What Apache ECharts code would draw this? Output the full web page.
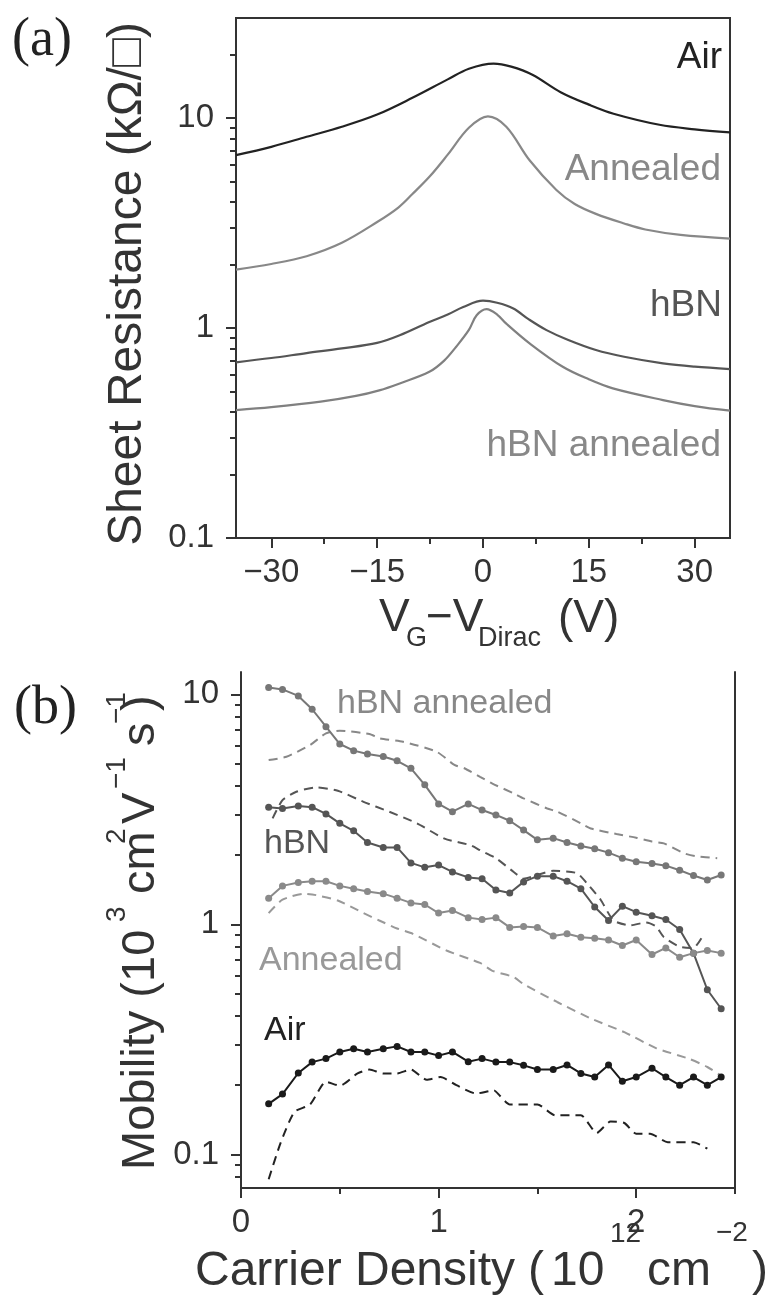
<!DOCTYPE html>
<html>
<head>
<meta charset="utf-8">
<script src="https://cdn.jsdelivr.net/npm/echarts@6/dist/echarts.min.js"></script>
<style>
html,body{margin:0;padding:0;background:#fff;}
#chart{width:775px;height:1296px;}
</style>
</head>
<body>
<div id="chart"></div>
<script>
// ---------- Panel (a): sheet resistance vs V_G - V_Dirac ----------
const vAir = [-35,-30,-25,-20,-15,-10,-5,-2,1.5,4,7,11,15,18.5,25,30,35];
const rAir = [6.67,7.3,8.15,9.1,10.4,12.5,15.3,17.2,18.2,17.6,16.1,13.3,11.6,10.5,9.3,8.85,8.55];
const vAnn = [-35,-30,-25,-20,-15,-12,-10,-7.5,-5,-2,0.7,3.3,6.6,10.4,13,16,20,23,28,35];
const rAnn = [1.90,2.02,2.2,2.55,3.2,3.75,4.35,5.3,6.7,9.0,10.2,9.1,6.3,4.55,3.9,3.5,3.15,2.95,2.78,2.67];
const vHbn = [-35,-30,-25,-20,-15,-11.8,-7.6,-5,-2.8,0,2,4.3,6.5,9,12,16,20,25.5,30,35];
const rHbn = [0.687,0.72,0.76,0.80,0.85,0.925,1.07,1.16,1.26,1.35,1.32,1.24,1.10,0.978,0.88,0.786,0.73,0.679,0.655,0.638];
const vHa = [-35,-30,-23,-18,-14.7,-11.8,-7.6,-5.5,-3.8,-2,-0.9,0.5,2,3.3,6.6,11.3,15,18.4,25.5,30,35];
const rHa = [0.407,0.42,0.446,0.475,0.505,0.545,0.619,0.70,0.815,0.98,1.15,1.23,1.16,1.05,0.846,0.654,0.57,0.516,0.454,0.425,0.404];
const aXMajor = [-30,-15,0,15,30];
const aXMinor = [-22.5,-7.5,7.5,22.5];
const aYMajor = [0.1,1,10];
const aYMinor = [0.2,0.3,0.4,0.5,0.6,0.7,0.8,0.9,2,3,4,5,6,7,8,9,20];

// ---------- Panel (b): mobility vs carrier density ----------
const nB = [0.14,0.21,0.29,0.36,0.43,0.50,0.57,0.64,0.72,0.79,0.86,0.93,1.00,1.07,1.15,1.22,1.29,1.36,1.43,1.50,1.58,1.65,1.72,1.79,1.86,1.93,2.00,2.08,2.15,2.22,2.29,2.36,2.43];
const muHa = [10.7,10.5,9.84,8.61,7.23,6.08,5.69,5.50,5.37,5.14,4.77,4.04,3.34,3.09,3.34,3.14,2.99,2.82,2.57,2.33,2.37,2.27,2.19,2.13,2.05,1.94,1.87,1.84,1.80,1.72,1.63,1.56,1.64];
const muHbn = [3.23,3.19,3.27,3.23,3.02,2.75,2.55,2.27,2.16,2.16,1.85,1.77,1.81,1.69,1.60,1.58,1.41,1.37,1.53,1.62,1.62,1.54,1.43,1.19,1.04,1.20,1.13,1.09,1.05,0.95,0.75,0.52,0.43];
const muAnn = [1.30,1.47,1.52,1.54,1.54,1.47,1.43,1.39,1.36,1.30,1.24,1.22,1.12,1.15,1.07,1.05,1.07,0.97,0.98,0.97,0.89,0.91,0.88,0.87,0.855,0.81,0.855,0.74,0.79,0.72,0.75,0.77,0.75];
const muAir = [0.166,0.183,0.226,0.252,0.261,0.279,0.288,0.279,0.288,0.295,0.279,0.279,0.269,0.279,0.253,0.261,0.252,0.252,0.244,0.234,0.234,0.245,0.225,0.217,0.245,0.208,0.217,0.237,0.217,0.200,0.217,0.200,0.217];

const nHaD = [0.14,0.23,0.35,0.43,0.50,0.65,0.70,0.82,0.99,1.08,1.13,1.21,1.27,1.38,1.43,1.55,1.60,1.72,1.77,1.90,2.00,2.08,2.14,2.24,2.30,2.41];
const muHaD = [5.18,5.35,6.02,6.77,6.95,6.72,6.44,6.22,5.63,4.93,4.77,4.38,4.1,3.71,3.53,3.19,3.09,2.75,2.61,2.47,2.38,2.29,2.25,2.04,1.98,1.94];
const nHbnD = [0.16,0.21,0.28,0.38,0.49,0.62,0.75,0.89,1.03,1.16,1.21,1.29,1.38,1.43,1.52,1.58,1.70,1.75,1.82,1.885,1.97,2.05,2.10,2.14,2.22,2.29,2.33];
const muHbnD = [2.89,3.47,3.77,3.94,3.81,3.41,3.09,2.75,2.36,2.21,2.10,1.94,1.69,1.58,1.66,1.71,1.67,1.51,1.28,1.04,0.99,1.02,0.98,0.88,0.80,0.79,0.87];
const nAnnD = [0.14,0.21,0.32,0.38,0.49,0.62,0.70,0.79,0.87,1.04,1.21,1.27,1.38,1.43,1.60,1.77,1.94,2.10,2.27,2.36,2.44];
const muAnnD = [1.12,1.28,1.36,1.34,1.27,1.12,1.04,0.96,0.91,0.77,0.68,0.63,0.59,0.55,0.46,0.39,0.34,0.29,0.26,0.24,0.217];
const nAirD = [0.14,0.20,0.27,0.35,0.43,0.50,0.59,0.65,0.72,0.79,0.86,0.94,1.01,1.09,1.19,1.28,1.31,1.36,1.50,1.59,1.72,1.80,1.87,1.94,2.00,2.07,2.16,2.29,2.36];
const muAirD = [0.078,0.112,0.153,0.165,0.207,0.199,0.225,0.234,0.225,0.225,0.234,0.211,0.217,0.200,0.184,0.190,0.180,0.165,0.165,0.148,0.148,0.124,0.139,0.137,0.123,0.123,0.113,0.113,0.106];

const bXMajor = [0,1,2];
const bXMinor = [0.5,1.5,2.5];
const bYMajor = [0.1,1,10];
const bYMinor = [0.08,0.09,0.2,0.3,0.4,0.5,0.6,0.7,0.8,0.9,2,3,4,5,6,7,8,9];

function zip(xs, ys){ return xs.map((x,i)=>[x, ys[i]]); }

const AX = '#333';
const FONT = 'Liberation Sans';
const minus = v => (v < 0 ? '\u2212' + Math.abs(v) : String(v));

function majorAxis(extra){
  return Object.assign({
    axisLine:{show:true, onZero:false, lineStyle:{color:AX, width:2}},
    splitLine:{show:false},
    axisTick:{show:true, length:10, lineStyle:{color:AX, width:2}},
    axisLabel:{color:'#333', fontSize:33, fontFamily:FONT}
  }, extra);
}
function minorAxis(extra, ticks, len){
  return Object.assign({
    axisLine:{show:false, onZero:false},
    splitLine:{show:false},
    axisTick:{show:true, length:len, customValues:ticks, lineStyle:{color:AX, width:2}},
    axisLabel:{show:false}
  }, extra);
}

const xAxis = [
  majorAxis({gridIndex:0, type:'value', min:-35, max:35, position:'bottom',
    axisTick:{show:true, length:10, customValues:aXMajor, lineStyle:{color:AX,width:2}},
    axisLabel:{customValues:aXMajor, formatter:minus, color:'#333', fontSize:33, fontFamily:FONT, margin:18}}),
  minorAxis({gridIndex:0, type:'value', min:-35, max:35, position:'bottom'}, aXMinor, 6),
  majorAxis({gridIndex:1, type:'value', min:0, max:2.5, position:'bottom',
    axisTick:{show:true, length:10, customValues:bXMajor, lineStyle:{color:AX,width:2}},
    axisLabel:{customValues:bXMajor, color:'#333', fontSize:33, fontFamily:FONT, margin:18}}),
  minorAxis({gridIndex:1, type:'value', min:0, max:2.5, position:'bottom'}, bXMinor, 6)
];

const yAxis = [
  majorAxis({gridIndex:0, type:'log', min:0.1, max:30, position:'left',
    axisTick:{show:true, length:10, customValues:aYMajor, lineStyle:{color:AX,width:2}},
    axisLabel:{customValues:aYMajor, formatter:v=>String(+v.toPrecision(3)), color:'#333', fontSize:33, fontFamily:FONT, margin:22}}),
  minorAxis({gridIndex:0, type:'log', min:0.1, max:30, position:'left'}, aYMinor, 6),
  majorAxis({gridIndex:1, type:'log', min:0.0715, max:12.5, position:'left',
    axisTick:{show:true, length:10, customValues:bYMajor, lineStyle:{color:AX,width:2}},
    axisLabel:{customValues:bYMajor, formatter:v=>String(+v.toPrecision(3)), color:'#333', fontSize:33, fontFamily:FONT, margin:22}}),
  minorAxis({gridIndex:1, type:'log', min:0.0715, max:12.5, position:'left'}, bYMinor, 6),
  {gridIndex:1, type:'log', min:0.0715, max:12.5, position:'right',
    axisLine:{show:true, onZero:false, lineStyle:{color:AX, width:2}},
    axisTick:{show:false}, axisLabel:{show:false}, splitLine:{show:false}}
];

function curveA(name, xs, ys, color){
  return {name, type:'line', xAxisIndex:0, yAxisIndex:0, data:zip(xs,ys), smooth:0.35,
    showSymbol:false, lineStyle:{color, width:2.2}, silent:true};
}
function solidB(name, ys, color){
  return {name, type:'line', xAxisIndex:2, yAxisIndex:2, data:zip(nB,ys), smooth:false,
    symbol:'circle', symbolSize:7, itemStyle:{color}, lineStyle:{color, width:2}, silent:true};
}
function dashB(name, xs, ys, color){
  return {name, type:'line', xAxisIndex:2, yAxisIndex:2, data:zip(xs,ys), smooth:0.2,
    showSymbol:false, lineStyle:{color, width:2, type:[9,6]}, silent:true};
}

const series = [
  curveA('Air', vAir, rAir, '#222'),
  curveA('Annealed', vAnn, rAnn, '#888'),
  curveA('hBN', vHbn, rHbn, '#555'),
  curveA('hBN annealed', vHa, rHa, '#808080'),
  dashB('hBN annealed (dashed)', nHaD, muHaD, '#888'),
  dashB('hBN (dashed)', nHbnD, muHbnD, '#555'),
  dashB('Annealed (dashed)', nAnnD, muAnnD, '#999'),
  dashB('Air (dashed)', nAirD, muAirD, '#222'),
  solidB('hBN annealed', muHa, '#777'),
  solidB('hBN', muHbn, '#555'),
  solidB('Annealed', muAnn, '#8a8a8a'),
  solidB('Air', muAir, '#1a1a1a')
];

function txt(text, x, y, size, color, align, opts){
  return Object.assign({type:'text', x, y, silent:true,
    style:{text, fill:color, font: size + 'px "' + FONT + '"', fontSize:size, fontFamily:FONT,
      align:align||'left', verticalAlign:'middle', textAlign:align||'left', textVerticalAlign:'middle'}}, opts||{});
}
function rtxt(text, x, y, size, color){
  // rotated 90deg counter-clockwise, starting at screen y and reading upward
  return txt(text, x, y, size, color, 'left', {rotation: Math.PI/2});
}

const graphic = [
  {type:'text', x:12, y:41, silent:true, style:{text:'(a)', fill:'#222', font:'54px "Liberation Serif"', align:'left', verticalAlign:'middle'}},
  {type:'text', x:14, y:709, silent:true, style:{text:'(b)', fill:'#222', font:'54px "Liberation Serif"', align:'left', verticalAlign:'middle'}},
  // panel (a) annotations
  txt('Air', 722, 58, 37, '#222', 'right'),
  txt('Annealed', 721, 170, 37, '#888', 'right'),
  txt('hBN', 722, 306, 37, '#555', 'right'),
  txt('hBN annealed', 721, 446, 37, '#888', 'right'),
  // panel (b) annotations
  txt('hBN annealed', 337, 704, 34, '#888', 'left'),
  txt('hBN', 264, 844, 34, '#555', 'left'),
  txt('Annealed', 259, 961, 34, '#999', 'left'),
  txt('Air', 264, 1031, 34, '#222', 'left'),
  // panel (a) x title
  txt('V', 379, 618, 46, '#333', 'left'),
  txt('G', 406, 639, 27, '#333', 'left'),
  txt('\u2212V', 426, 618, 46, '#333', 'left'),
  txt('Dirac', 478, 639, 27, '#333', 'left'),
  txt('(V)', 558, 619, 46, '#333', 'left'),
  // panel (a) y title
  {type:'text', x:128, y:284, rotation:Math.PI/2, silent:true,
    style:{text:'Sheet Resistance (k\u03A9/\u25A1)', fill:'#333', font:'48px "Liberation Sans"', align:'center', verticalAlign:'middle'}},
  // panel (b) x title
  txt('Carrier Density', 195, 1272, 48, '#333', 'left'),
  txt('(', 528, 1272, 48, '#333', 'left'),
  txt('10', 551, 1272, 48, '#333', 'left'),
  txt('12', 610, 1234, 28, '#333', 'left'),
  txt('cm', 647, 1272, 48, '#333', 'left'),
  txt('\u22122', 716, 1233, 28, '#333', 'left'),
  txt(')', 752, 1272, 48, '#333', 'left'),
  // panel (b) y title (rotated pieces)
  rtxt('Mobility (10', 141, 1170, 47, '#333'),
  rtxt('3', 117, 922, 28, '#333'),
  rtxt('cm', 141, 894, 47, '#333'),
  rtxt('2', 117, 844, 28, '#333'),
  rtxt('V', 141, 824, 47, '#333'),
  rtxt('\u22121', 117, 789, 28, '#333'),
  rtxt('s', 141, 746, 47, '#333'),
  rtxt('\u22121', 117, 724, 28, '#333'),
  rtxt(')', 141, 711, 47, '#333')
];

const chart = echarts.init(document.getElementById('chart'), null, {renderer:'canvas'});
chart.setOption({
  animation:false,
  backgroundColor:'#fff',
  textStyle:{fontFamily:FONT},
  grid:[
    {left:236, top:18, width:494, height:520, show:true, borderColor:AX, borderWidth:2, backgroundColor:'transparent'},
    {left:241, top:672, width:494, height:516}
  ],
  xAxis, yAxis, series, graphic
});
</script>
</body>
</html>
